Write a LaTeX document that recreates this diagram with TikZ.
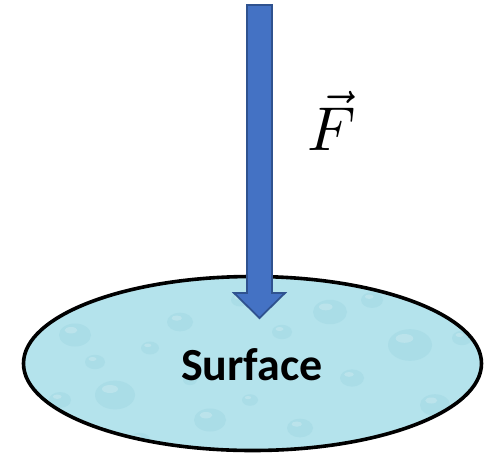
\documentclass[tikz,border=0pt]{standalone}
\usepackage{fontspec}
\newfontfamily\calib{Carlito}
\usetikzlibrary{shapes.geometric}
\definecolor{arrowfill}{HTML}{4472C4}
\definecolor{arrowline}{HTML}{2F528F}
\definecolor{surffill}{HTML}{B4E3EC}
\definecolor{dropc}{HTML}{98D2DF}
\tikzset{
  surfstyle/.style={ellipse, fill=surffill,
    minimum width=460pt, minimum height=176pt, inner sep=0pt},
  forcearrow/.style={fill=arrowfill, draw=arrowline, line width=1.8pt, line join=miter},
  drop/.style={fill=dropc, opacity=0.35},
  shine/.style={fill=white, opacity=0.2},
}
\begin{document}
\begin{tikzpicture}[x=1pt,y=-1pt]
\useasboundingbox (0,0) rectangle (495,456);
\node[surfstyle] (surf) at (252.5,363.5) {};
\begin{scope}
\clip (252.5,363.5) ellipse [x radius=228pt, y radius=86pt];
\foreach \x/\y/\r in {75/335/16,115/395/20,180/322/13,330/312/17,410/345/22,435/405/15,95/362/10,210/420/16,300/428/13,372/300/11,150/348/9,462/338/10,60/400/11,250/400/8,352/378/12,190/380/7,282/332/10,240/300/9,400/440/12,140/440/10}
  {\fill[drop] (\x,\y) ellipse [x radius=\r pt, y radius=0.72*\r pt];
   \fill[shine] (\x-0.25*\r,\y-0.3*\r) ellipse [x radius=0.4*\r pt, y radius=0.2*\r pt];}
\end{scope}
\draw[black, line width=3.6pt] (252.5,363.5) ellipse [x radius=229pt, y radius=87pt];
\node[font=\calib\bfseries\fontsize{46}{50}\selectfont, inner sep=0pt] (lbl) at (252,365) {Surface};
\draw[forcearrow] (247,5) -- (272,5) -- (272,293) -- (285,293) -- (259.5,318) -- (234,293) -- (247,293) -- cycle;
\node[inner sep=0pt] (F) at (332,121) {\scalebox{6.2}{$\vec{F}$}};
\end{tikzpicture}
\end{document}
